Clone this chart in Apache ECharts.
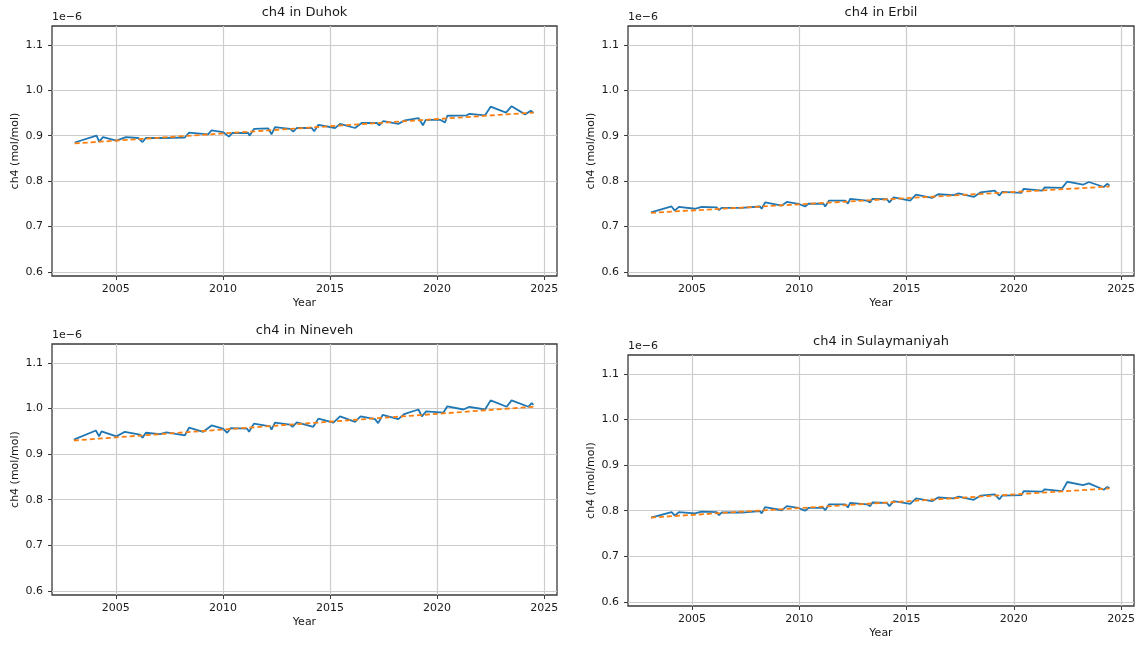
<!DOCTYPE html>
<html lang="en">
<head>
<meta charset="UTF-8">
<title>ch4 by region</title>
<style>
  html, body { margin: 0; padding: 0; background: #fff; }
  #main { width: 1139px; height: 646px; }
</style>
</head>
<body>
<div id="main"></div>
<script src="https://cdn.jsdelivr.net/npm/echarts@6.0.0/dist/echarts.min.js"></script>
<script>
// values are in units of 1e-6 mol/mol
const regions = ['Duhok', 'Erbil', 'Nineveh', 'Sulaymaniyah']
const yearTicks = [2005, 2010, 2015, 2020, 2025]
const valueTicks = [0.6, 0.7, 0.8, 0.9, 1.0, 1.1]

const duhokYears = [2003.08, 2004.1, 2004.22, 2004.4, 2005.03, 2005.47, 2006.04, 2006.25, 2006.4, 2007.2, 2008.22, 2008.42,
  2009.31, 2009.47, 2010.0, 2010.28, 2010.45, 2011.18, 2011.24, 2011.45, 2012.12, 2012.27, 2012.43, 2013.13, 2013.29,
  2013.45, 2014.15, 2014.26, 2014.46, 2015.24, 2015.47, 2016.17, 2016.48, 2017.18, 2017.3, 2017.49, 2018.19, 2018.5,
  2019.13, 2019.34, 2019.47, 2020.14, 2020.37, 2020.48, 2021.38, 2021.51, 2022.24, 2022.5, 2023.22, 2023.48, 2024.11,
  2024.38, 2024.5]
const duhokCh4 = [0.885, 0.900, 0.887, 0.897, 0.889, 0.897, 0.895, 0.886, 0.895, 0.895, 0.896, 0.907,
  0.903, 0.912, 0.908, 0.898, 0.906, 0.906, 0.900, 0.915, 0.916, 0.903, 0.919, 0.915, 0.909,
  0.917, 0.917, 0.910, 0.924, 0.917, 0.926, 0.917, 0.928, 0.928, 0.923, 0.932, 0.926, 0.934,
  0.939, 0.923, 0.935, 0.935, 0.929, 0.944, 0.945, 0.948, 0.945, 0.964, 0.951, 0.965, 0.947,
  0.955, 0.950]

const erbilYears = [2003.09, 2004.05, 2004.2, 2004.39, 2005.14, 2005.45, 2006.15, 2006.26, 2006.38, 2007.32, 2008.17,
  2008.25, 2008.41, 2009.19, 2009.42, 2009.96, 2010.27, 2010.43, 2011.13, 2011.21, 2011.39, 2012.14, 2012.27, 2012.37,
  2013.15, 2013.31, 2013.41, 2014.09, 2014.2, 2014.4, 2015.17, 2015.44, 2016.19, 2016.47, 2017.19, 2017.43, 2018.13,
  2018.44, 2019.11, 2019.33, 2019.45, 2020.35, 2020.46, 2021.32, 2021.44, 2022.25, 2022.49, 2023.22, 2023.5, 2024.19,
  2024.35, 2024.46]
const erbilCh4 = [0.731, 0.744, 0.735, 0.743, 0.739, 0.743, 0.742, 0.736, 0.741, 0.741, 0.744,
  0.739, 0.753, 0.746, 0.754, 0.750, 0.744, 0.750, 0.750, 0.744, 0.757, 0.757, 0.750, 0.761,
  0.757, 0.753, 0.761, 0.760, 0.753, 0.764, 0.757, 0.770, 0.763, 0.771, 0.769, 0.773, 0.765,
  0.775, 0.779, 0.768, 0.776, 0.774, 0.783, 0.779, 0.786, 0.785, 0.799, 0.792, 0.798, 0.787,
  0.794, 0.790]

const ninevehYears = [2003.04, 2004.07, 2004.22, 2004.33, 2005.03, 2005.42, 2006.12, 2006.25, 2006.4, 2007.06, 2007.36,
  2008.22, 2008.42, 2009.08, 2009.47, 2010.0, 2010.2, 2010.36, 2011.13, 2011.22, 2011.45, 2012.2, 2012.27, 2012.43,
  2013.13, 2013.25, 2013.45, 2014.22, 2014.46, 2015.16, 2015.47, 2016.17, 2016.43, 2017.1, 2017.25, 2017.46, 2018.19,
  2018.46, 2019.13, 2019.29, 2019.49, 2020.29, 2020.38, 2020.48, 2021.23, 2021.51, 2022.24, 2022.5, 2023.25, 2023.48,
  2024.26, 2024.42, 2024.5]
const ninevehCh4 = [0.932, 0.952, 0.939, 0.950, 0.939, 0.949, 0.943, 0.936, 0.947, 0.944, 0.948,
  0.941, 0.958, 0.949, 0.963, 0.956, 0.947, 0.957, 0.956, 0.949, 0.967, 0.961, 0.954, 0.969,
  0.965, 0.960, 0.970, 0.960, 0.978, 0.969, 0.983, 0.971, 0.983, 0.977, 0.968, 0.986, 0.977,
  0.988, 0.998, 0.983, 0.994, 0.991, 0.987, 1.005, 0.998, 1.004, 0.998, 1.018, 1.004, 1.018,
  1.004, 1.012, 1.008]

const sulaymaniyahYears = [2003.09, 2004.05, 2004.2, 2004.39, 2005.14, 2005.45, 2006.15, 2006.26, 2006.38, 2007.32,
  2008.17, 2008.25, 2008.41, 2009.19, 2009.42, 2009.96, 2010.27, 2010.43, 2011.13, 2011.21, 2011.39, 2012.14, 2012.27,
  2012.37, 2013.15, 2013.31, 2013.41, 2014.09, 2014.2, 2014.4, 2015.17, 2015.44, 2016.19, 2016.47, 2017.19, 2017.43,
  2018.13, 2018.44, 2019.11, 2019.33, 2019.45, 2020.35, 2020.46, 2021.32, 2021.44, 2022.25, 2022.49, 2023.22, 2023.5,
  2024.19, 2024.35, 2024.46]
const sulaymaniyahCh4 = [0.785, 0.797, 0.789, 0.797, 0.794, 0.798, 0.797, 0.790, 0.796, 0.796,
  0.799, 0.794, 0.808, 0.801, 0.810, 0.806, 0.800, 0.806, 0.806, 0.801, 0.814, 0.814, 0.807,
  0.817, 0.814, 0.810, 0.818, 0.817, 0.810, 0.821, 0.815, 0.827, 0.821, 0.829, 0.827, 0.831,
  0.824, 0.833, 0.836, 0.825, 0.833, 0.834, 0.843, 0.842, 0.847, 0.843, 0.863, 0.856, 0.860,
  0.846, 0.852, 0.850]

// linear trend end points (start, end)
const duhokTrend = [0.883, 0.951]
const erbilTrend = [0.730, 0.788]
const ninevehTrend = [0.930, 1.004]
const sulaymaniyahTrend = [0.785, 0.849]

const seriesYears = [duhokYears, erbilYears, ninevehYears, sulaymaniyahYears]
const seriesCh4 = [duhokCh4, erbilCh4, ninevehCh4, sulaymaniyahCh4]
const trends = [duhokTrend, erbilTrend, ninevehTrend, sulaymaniyahTrend]

// panel boxes in pixels
const boxes = [
  { left: 52, top: 26, width: 505, height: 250 },
  { left: 628, top: 26, width: 506, height: 250 },
  { left: 52, top: 344, width: 505, height: 251 },
  { left: 628, top: 355, width: 506, height: 251 }
]

const font = 'DejaVu Sans'
const textColor = '#1a1a1a'

let chart = echarts.init(document.getElementById('main'), null, { renderer: 'canvas' })

const titles = []
const grids = []
const xAxes = []
const yAxes = []
const series = []

boxes.forEach((b, i) => {
  titles.push({
    text: 'ch4 in ' + regions[i],
    left: b.left + b.width / 2,
    top: b.top - 20,
    textAlign: 'center',
    padding: 0,
    textStyle: { fontFamily: font, fontSize: 13, fontWeight: 'normal', color: textColor }
  })
  titles.push({
    text: '1e\u22126',
    left: b.left,
    top: b.top - 14,
    padding: 0,
    textStyle: { fontFamily: font, fontSize: 11, fontWeight: 'normal', color: textColor }
  })
  grids.push({
    left: b.left, top: b.top, width: b.width, height: b.height,
    show: true, borderColor: '#3a3a3a', borderWidth: 1.3, backgroundColor: '#fff'
  })
  xAxes.push({
    type: 'value',
    gridIndex: i,
    min: 2002.02,
    max: 2025.6,
    name: 'Year',
    nameLocation: 'middle',
    nameGap: 22,
    nameTextStyle: { fontFamily: font, fontSize: 11, color: textColor },
    axisLine: { show: false },
    axisTick: { show: true, length: 4, customValues: yearTicks, lineStyle: { color: '#3a3a3a' } },
    axisLabel: {
      customValues: yearTicks, margin: 8,
      fontFamily: font, fontSize: 11, color: textColor,
      formatter: v => String(v)
    },
    splitLine: { show: true, customValues: yearTicks, lineStyle: { color: '#cccccc', width: 1.2 } }
  })
  yAxes.push({
    type: 'value',
    gridIndex: i,
    min: 0.5908,
    max: 1.1418,
    name: 'ch4 (mol/mol)',
    nameLocation: 'middle',
    nameGap: 31,
    nameTextStyle: { fontFamily: font, fontSize: 11, color: textColor },
    axisLine: { show: false },
    axisTick: { show: true, length: 4, customValues: valueTicks, lineStyle: { color: '#3a3a3a' } },
    axisLabel: {
      customValues: valueTicks, margin: 9,
      fontFamily: font, fontSize: 11, color: textColor,
      formatter: v => v.toFixed(1)
    },
    splitLine: { show: true, customValues: valueTicks, lineStyle: { color: '#cccccc', width: 1.2 } }
  })
  const yrs = seriesYears[i]
  series.push({
    type: 'line',
    xAxisIndex: i,
    yAxisIndex: i,
    data: yrs.map((y, k) => [y, seriesCh4[i][k]]),
    showSymbol: false,
    lineStyle: { color: '#1f77b4', width: 1.8 },
    z: 3
  })
  series.push({
    type: 'line',
    xAxisIndex: i,
    yAxisIndex: i,
    data: [[yrs[0], trends[i][0]], [yrs[yrs.length - 1], trends[i][1]]],
    showSymbol: false,
    lineStyle: { color: '#ff7f0e', width: 1.8, type: [5, 3] },
    z: 4
  })
})

let option = {
  animation: false,
  backgroundColor: '#fff',
  title: titles,
  grid: grids,
  xAxis: xAxes,
  yAxis: yAxes,
  series: series
}
chart.setOption(option)
</script>
</body>
</html>
